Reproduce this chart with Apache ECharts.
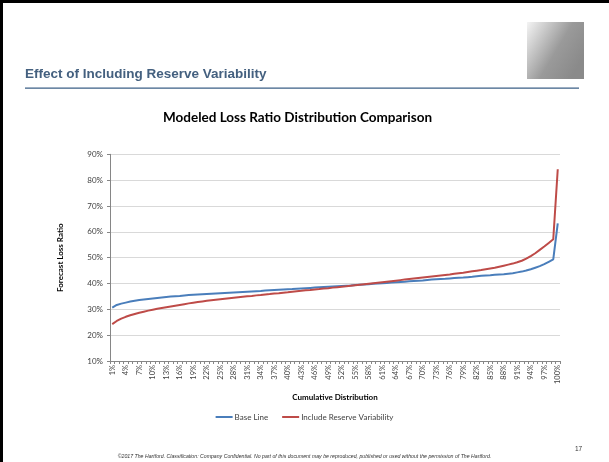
<!DOCTYPE html>
<html>
<head>
<meta charset="utf-8">
<script src="https://cdn.jsdelivr.net/npm/echarts@6/dist/echarts.min.js"></script>
<style>
html,body{margin:0;padding:0;background:#fff;}
#c{width:609px;height:462px;}
</style>
</head>
<body>
<div id="c"></div>
<script>
var categories = [];
for (var k = 1; k <= 100; k++) categories.push(k + '%');

var baseLine = [
30.7,31.7,32.2,32.6,33.0,33.3,33.6,33.8,34.0,34.2,
34.4,34.6,34.8,34.95,35.1,35.2,35.35,35.5,35.6,35.7,
35.8,35.9,36.0,36.1,36.2,36.3,36.4,36.5,36.6,36.7,
36.8,36.9,37.0,37.1,37.25,37.35,37.45,37.55,37.65,37.75,
37.85,38.0,38.1,38.2,38.3,38.4,38.5,38.6,38.7,38.8,
38.9,39.0,39.1,39.2,39.4,39.5,39.6,39.75,39.9,40.0,
40.1,40.2,40.35,40.5,40.6,40.7,40.85,41.0,41.1,41.2,
41.35,41.5,41.6,41.7,41.8,41.95,42.1,42.2,42.3,42.45,
42.6,42.8,42.95,43.1,43.2,43.35,43.5,43.6,43.8,44.0,
44.3,44.6,45.0,45.5,46.1,46.7,47.5,48.4,49.3,63.3
];

var reserveVar = [
24.3,25.5,26.4,27.1,27.7,28.2,28.7,29.1,29.5,29.85,
30.2,30.5,30.8,31.1,31.4,31.7,32.0,32.3,32.55,32.8,
33.05,33.3,33.5,33.7,33.9,34.1,34.3,34.5,34.7,34.9,
35.05,35.2,35.4,35.55,35.75,35.9,36.1,36.25,36.45,36.6,
36.8,37.0,37.15,37.35,37.5,37.7,37.85,38.05,38.2,38.4,
38.55,38.75,38.9,39.1,39.3,39.5,39.7,39.9,40.1,40.3,
40.5,40.7,40.9,41.1,41.3,41.5,41.7,41.9,42.1,42.3,
42.5,42.7,42.9,43.1,43.3,43.5,43.75,44.0,44.2,44.45,
44.7,44.95,45.2,45.5,45.8,46.1,46.5,46.9,47.3,47.7,
48.2,48.8,49.6,50.6,51.7,53.0,54.3,55.7,57.1,84.2
];

var seriesNames = ['Base Line', 'Include Reserve Variability'];
var yTicks = [10, 20, 30, 40, 50, 60, 70, 80, 90];

var chart = echarts.init(document.getElementById('c'), null, {renderer: 'canvas'});
var calib = 'Lato, "Open Sans", sans-serif';
chart.setOption({
  animation: false,
  backgroundColor: '#ffffff',
  title: {
    text: 'Modeled Loss Ratio Distribution Comparison',
    left: 158,
    top: 106,
    textStyle: {fontFamily: calib, fontSize: 13.5, fontWeight: 'bold', color: '#000'}
  },
  graphic: [
    {type: 'rect', shape: {x: 0, y: 0, width: 609, height: 3}, style: {fill: '#000'}},
    {type: 'rect', shape: {x: 0, y: 0, width: 3, height: 462}, style: {fill: '#000'}},
    {type: 'text', left: 25, top: 67, style: {text: 'Effect of Including Reserve Variability', fontFamily: '"Liberation Sans", Arial, sans-serif', fontSize: 13.5, fontWeight: 'bold', fill: '#44607f'}},
    {type: 'rect', shape: {x: 25, y: 87.5, width: 554, height: 1.2}, style: {fill: '#3b5f86'}},
    {type: 'rect', shape: {x: 527, y: 22, width: 57, height: 57}, style: {fill: new echarts.graphic.LinearGradient(0, 0, 1, 0.6, [{offset: 0, color: '#f4f4f4'}, {offset: 0.6, color: '#9a9a9a'}, {offset: 1, color: '#8a8a8a'}])}},
    {type: 'text', left: 'center', top: 454, style: {text: '\u00a92017 The Hartford. Classification: Company Confidential. No part of this document may be reproduced, published or used without the permission of The Hartford.', fontFamily: '"Liberation Sans", Arial, sans-serif', fontSize: 5.2, fontStyle: 'italic', fill: '#333'}},
    {type: 'text', left: 575, top: 446, style: {text: '17', fontFamily: '"Liberation Sans", Arial, sans-serif', fontSize: 6.5, fill: '#333'}}
  ],
  legend: {
    bottom: 36,
    left: 'center',
    icon: 'rect',
    itemWidth: 17,
    itemHeight: 2,
    itemGap: 14,
    textStyle: {fontFamily: calib, fontSize: 8, color: '#404040', padding: [0, 0, 0, -3]},
    data: seriesNames
  },
  grid: {left: 110, right: 49, top: 154.3, bottom: 101, containLabel: false},
  xAxis: {
    type: 'category',
    data: categories,
    boundaryGap: true,
    name: 'Cumulative Distribution',
    nameLocation: 'middle',
    nameGap: 32,
    nameTextStyle: {fontFamily: calib, fontSize: 8, fontWeight: 'bold', color: '#000'},
    axisLine: {lineStyle: {color: '#868686', width: 1}},
    axisTick: {show: true, interval: 0, length: 3, lineStyle: {color: '#868686'}},
    axisLabel: {interval: 2, rotate: 90, fontFamily: calib, fontSize: 7.5, color: '#404040', margin: 4}
  },
  yAxis: {
    type: 'value',
    min: 10,
    max: 90,
    interval: 10,
    name: 'Forecast Loss Ratio',
    nameLocation: 'middle',
    nameGap: 46,
    nameRotate: 90,
    nameTextStyle: {fontFamily: calib, fontSize: 8, fontWeight: 'bold', color: '#000'},
    axisLine: {show: true, lineStyle: {color: '#868686', width: 1}},
    axisTick: {show: true, length: 3, lineStyle: {color: '#868686'}},
    splitLine: {lineStyle: {color: '#d9d9d9', width: 1}},
    axisLabel: {formatter: function (v) { return yTicks.indexOf(v) >= 0 ? v + '%' : ''; }, fontFamily: calib, fontSize: 8, color: '#404040', margin: 7}
  },
  series: [
    {name: seriesNames[0], type: 'line', data: baseLine, showSymbol: false, symbol: 'none', color: '#4a7ebb', lineStyle: {width: 2, color: '#4a7ebb'}},
    {name: seriesNames[1], type: 'line', data: reserveVar, showSymbol: false, symbol: 'none', color: '#be4b48', lineStyle: {width: 2, color: '#be4b48'}}
  ]
});
</script>
</body>
</html>
